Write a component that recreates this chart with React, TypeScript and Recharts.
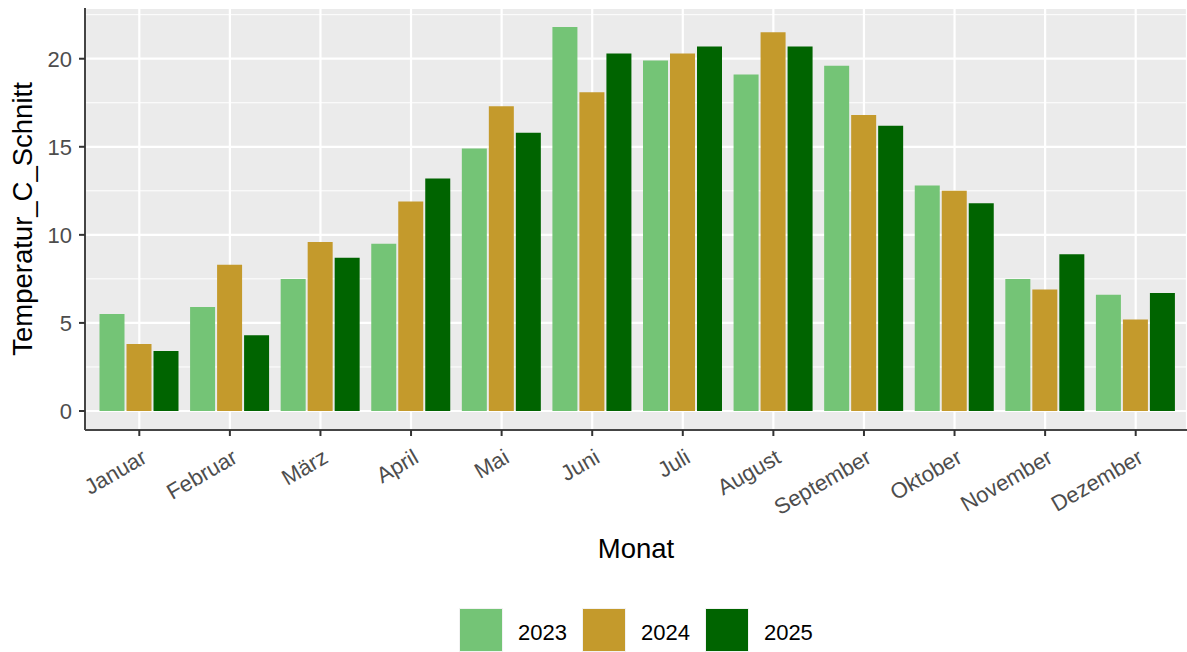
import { BarChart, Bar, XAxis, YAxis, CartesianGrid } from 'recharts';

const MONTHS = [
  'Januar',
  'Februar',
  'März',
  'April',
  'Mai',
  'Juni',
  'Juli',
  'August',
  'September',
  'Oktober',
  'November',
  'Dezember',
];

// monthly mean temperature per year
const T_2023 = [5.5, 5.9, 7.5, 9.5, 14.9, 21.8, 19.9, 19.1, 19.6, 12.8, 7.5, 6.6];
const T_2024 = [3.8, 8.3, 9.6, 11.9, 17.3, 18.1, 20.3, 21.5, 16.8, 12.5, 6.9, 5.2];
const T_2025 = [3.4, 4.3, 8.7, 13.2, 15.8, 20.3, 20.7, 20.7, 16.2, 11.8, 8.9, 6.7];

const Y_TICKS = [0, 5, 10, 15, 20];
const Y_MINOR = [2.5, 7.5, 12.5, 17.5, 22.5];

const YEARS = ['2023', '2024', '2025'];
const YEAR_COLORS: Record<string, string> = {
  '2023': '#74C476',
  '2024': '#C49A2C',
  '2025': '#006400',
};

const FONT = '"Liberation Sans", Arial, sans-serif';

const data = MONTHS.map((m, i) => ({
  month: m,
  '2023': T_2023[i],
  '2024': T_2024[i],
  '2025': T_2025[i],
}));

function MonthTick({ x, y, payload }: any) {
  const ax = x;
  const ay = y + 10;
  return (
    <text
      x={ax}
      y={ay}
      dy="0.82em"
      textAnchor="end"
      fill="#4D4D4D"
      fontSize={22}
      fontFamily={FONT}
      transform={`rotate(-30 ${ax} ${ay})`}
    >
      {payload.value}
    </text>
  );
}

export default function App() {
  return (
    <div
      style={{
        position: 'absolute',
        left: 0,
        top: 0,
        width: 1187,
        height: 652,
        background: '#fff',
        overflow: 'hidden',
        fontFamily: FONT,
      }}
    >
      <BarChart
        width={1187}
        height={652}
        data={data}
        margin={{ top: 8, right: 0, bottom: 0, left: 0 }}
        barCategoryGap={5.5}
        barGap={2}
      >
        <CartesianGrid
          fill="#EBEBEB"
          fillOpacity={1}
          stroke="#FFFFFF"
          strokeWidth={1}
          vertical={false}
          horizontalValues={Y_MINOR}
        />
        <CartesianGrid stroke="#FFFFFF" strokeWidth={2.2} />
        <XAxis
          dataKey="month"
          height={222}
          padding={{ left: 9, right: 6 }}
          axisLine={{ stroke: '#444', strokeWidth: 2 }}
          tickLine={{ stroke: '#333', strokeWidth: 2 }}
          tickSize={6}
          tickMargin={0}
          interval={0}
          tick={<MonthTick />}
          label={{
            value: 'Monat',
            position: 'insideBottom',
            offset: 94,
            fill: '#000',
            fontSize: 27.5,
            fontFamily: FONT,
          }}
        />
        <YAxis
          width={85}
          domain={[-1.08, 22.88]}
          ticks={Y_TICKS}
          allowDataOverflow
          axisLine={{ stroke: '#444', strokeWidth: 2 }}
          tickLine={{ stroke: '#333', strokeWidth: 2 }}
          tickSize={6}
          tickMargin={7}
          tick={{ fill: '#4D4D4D', fontSize: 22, fontFamily: FONT }}
          label={{
            value: 'Temperatur_C_Schnitt',
            angle: -90,
            position: 'insideLeft',
            offset: 22,
            fill: '#000',
            fontSize: 27.5,
            fontFamily: FONT,
            style: { textAnchor: 'middle' },
          }}
        />
        {YEARS.map((yr) => (
          <Bar
            key={yr}
            dataKey={yr}
            fill={YEAR_COLORS[yr]}
            isAnimationActive={false}
          />
        ))}
      </BarChart>

      {/* legend */}
      <div
        style={{
          position: 'absolute',
          left: 459,
          top: 608,
          display: 'flex',
          alignItems: 'flex-start',
        }}
      >
        {YEARS.map((yr) => (
          <div key={yr} style={{ display: 'flex', marginRight: 15 }}>
            <div
              style={{
                width: 44,
                height: 44,
                background: '#F2F2F2',
                padding: 1,
                boxSizing: 'border-box',
              }}
            >
              <div
                style={{
                  width: '100%',
                  height: '100%',
                  background: YEAR_COLORS[yr],
                }}
              />
            </div>
            <div
              style={{
                marginLeft: 15,
                fontSize: 22,
                lineHeight: '44px',
                paddingTop: 3,
                color: '#000',
              }}
            >
              {yr}
            </div>
          </div>
        ))}
      </div>
    </div>
  );
}
